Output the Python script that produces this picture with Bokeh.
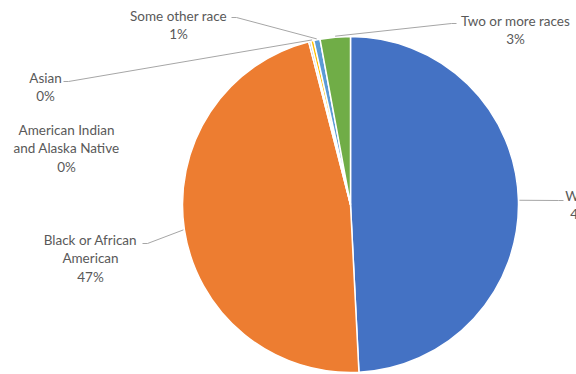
import math
from bokeh.plotting import figure
from bokeh.models import ColumnDataSource
from bokeh.core.properties import value
from bokeh.embed import file_html
from bokeh.resources import INLINE

# ---- data ----
categories = ["White", "Black or African\nAmerican", "American Indian\nand Alaska Native",
              "Asian", "Some other race", "Two or more races"]
shares = [49.2, 46.8, 0.2, 0.3, 0.6, 2.9]
colors = ["#4472C4", "#ED7D31", "#A5A5A5", "#FFC000", "#5B9BD5", "#70AD47"]

# ---- layout (screen pixels, y down) ----
W, H = 576, 374
CX, CY, R = 350, 204, 168
label_pos = [(583, 195), (90, 239), (66, 129), (45, 77), (178, 15), (515, 20)]
leader_anchor = [(563, 200), (142, 243), None, (63, 81), (231, 17), (456, 23)]
LINE_H = 18.5

def fy(y):
    return H - y

total = sum(shares)
starts, ends, mids = [], [], []
acc = 0.0
for s in shares:
    a0 = acc / total * 2 * math.pi
    acc += s
    a1 = acc / total * 2 * math.pi
    starts.append(math.pi / 2 - a0)
    ends.append(math.pi / 2 - a1)
    mids.append((a0 + a1) / 2)

p = figure(width=W, height=H, x_range=(0, W), y_range=(0, H), output_backend="svg",
           toolbar_location=None, min_border=0, tools="")
p.axis.visible = False
p.grid.visible = False
p.outline_line_color = None
p.background_fill_color = "white"

src = ColumnDataSource(dict(start=starts, end=ends, color=colors))
p.wedge(x=CX, y=fy(CY), radius=R, radius_units="screen", start_angle="start", end_angle="end",
        direction="clock", fill_color="color", line_color="white", line_width=1.5, source=src)

# leader lines
xs, ys = [], []
for i, anc in enumerate(leader_anchor):
    if anc is None:
        continue
    th = mids[i]
    px = CX + (R + 1) * math.sin(th)
    py = CY - (R + 1) * math.cos(th)
    hx = anc[0] + (5 if anc[0] < px else -5)
    xs.append([anc[0], hx, px])
    ys.append([fy(anc[1]), fy(anc[1]), fy(py)])
p.multi_line(xs=xs, ys=ys, line_color="#A6A6A6", line_width=1)

# labels
tx, ty, tt = [], [], []
for cat, s, (lx, ly) in zip(categories, shares, label_pos):
    lines = cat.split("\n") + ["%d%%" % int(s / total * 100 + 0.5)]
    for k, ln in enumerate(lines):
        tx.append(lx)
        ty.append(fy(ly + k * LINE_H))
        tt.append(ln)
p.text(x=tx, y=ty, text=tt, text_align="center", text_baseline="middle",
       text_font=value("Lato"), text_font_size="13.5px", text_color="#595959")

open("out.html", "w").write(file_html(p, INLINE))
